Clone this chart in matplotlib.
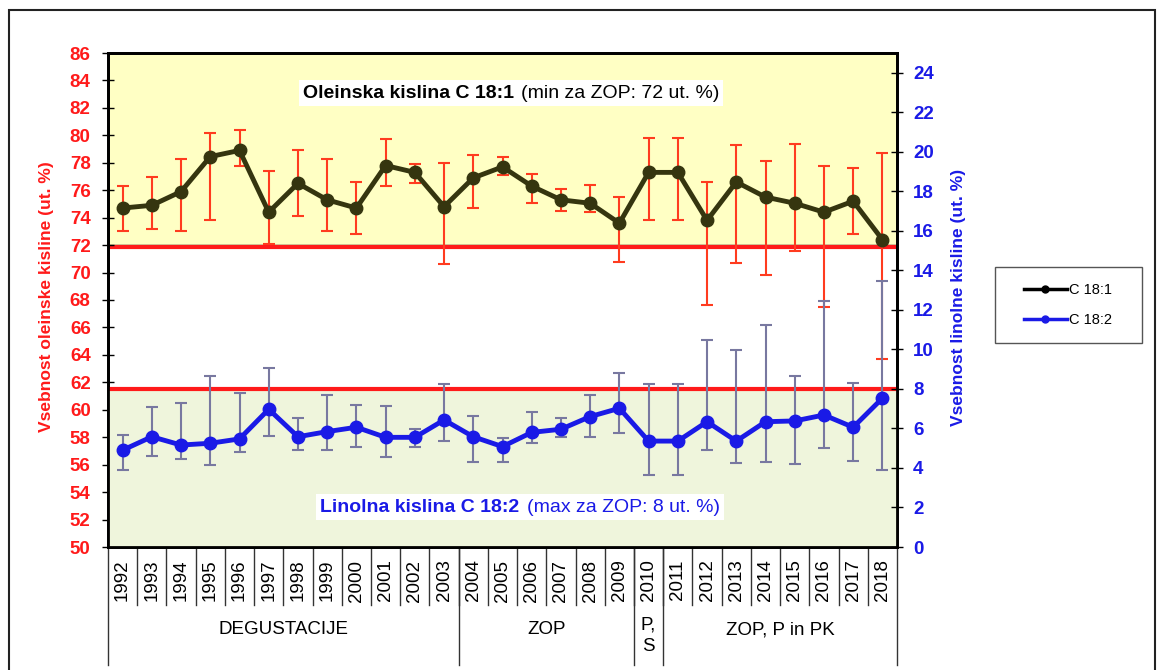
import matplotlib
matplotlib.use("Agg")
import matplotlib.pyplot as plt
from matplotlib.lines import Line2D
from matplotlib.patches import Rectangle

plt.rcParams['font.family'] = ['Liberation Sans', 'DejaVu Sans']

years = [str(y) for y in range(1992, 2019)]

# oleic acid C 18:1 (left axis) - mean, upper and lower whisker
oleic = [74.7, 74.9, 75.9, 78.45, 78.9, 74.4, 76.5, 75.3, 74.7, 77.8, 77.3, 74.8, 76.9,
         77.7, 76.3, 75.3, 75.05, 73.6, 77.3, 77.3, 73.8, 76.6, 75.5, 75.05, 74.4, 75.2, 72.4]
oleic_hi = [76.3, 77.0, 78.3, 80.2, 80.4, 77.4, 78.9, 78.3, 76.6, 79.7, 77.9, 78.0, 78.6,
            78.45, 77.2, 76.1, 76.4, 75.5, 79.8, 79.8, 76.6, 79.3, 78.1, 79.4, 77.8, 77.65, 78.7]
oleic_lo = [73.0, 73.2, 73.0, 73.8, 77.8, 72.1, 74.1, 73.0, 72.8, 76.3, 76.5, 70.6, 74.7,
            77.1, 75.1, 74.5, 74.4, 70.75, 73.8, 73.8, 67.6, 70.7, 69.8, 71.6, 67.5, 72.8, 63.7]

# linoleic acid C 18:2 (right axis)
linol = [4.9, 5.58, 5.16, 5.25, 5.47, 6.97, 5.58, 5.84, 6.06, 5.55, 5.55, 6.43, 5.58,
         5.08, 5.8, 5.96, 6.6, 7.02, 5.36, 5.36, 6.34, 5.36, 6.34, 6.38, 6.68, 6.06, 7.53]
linol_hi = [5.65, 7.07, 7.3, 8.67, 7.78, 9.04, 6.51, 7.69, 7.19, 7.14, 5.97, 8.23, 6.63,
            5.5, 6.85, 6.51, 7.69, 8.79, 8.23, 8.23, 10.5, 9.97, 11.23, 8.65, 12.46, 8.32, 13.46]
linol_lo = [3.9, 4.62, 4.47, 4.15, 4.82, 5.62, 4.91, 4.91, 5.08, 4.57, 5.08, 5.36, 4.32,
            4.32, 5.25, 5.58, 5.58, 5.79, 3.64, 3.64, 4.91, 4.24, 4.29, 4.19, 4.99, 4.37, 3.9]

oleic_min = 72
linol_max = 8

# groups under the year axis: (label, first index, last index)
groups = [("DEGUSTACIJE", 0, 11), ("ZOP", 12, 17), ("P,\nS", 18, 18), ("ZOP, P in PK", 19, 26)]

W, H = 1167, 670
fig = plt.figure(figsize=(W / 100, H / 100), dpi=100)
ax = fig.add_axes([108 / W, (H - 547) / H, 789 / W, 494 / H])
ax2 = ax.twinx()

x = list(range(len(years)))
red = '#ff1a1a'
olive = '#35350f'
blue = '#1a1ae6'

ax.set_xlim(-0.5, len(years) - 0.5)
ax.set_ylim(50, 86)
ax2.set_ylim(0, 25)

# background bands
ax.axhspan(oleic_min, 86, facecolor='#ffffc4', edgecolor='black', lw=1, zorder=0)
ax2.axhspan(0, linol_max, facecolor='#eff5dc', edgecolor='none', zorder=0)
ax.axhline(oleic_min - 0.12, color=red, lw=3, zorder=1)
ax2.axhline(linol_max, color=red, lw=3, zorder=1)

# C 18:1
ax.errorbar(x, oleic,
            yerr=[[m - l for m, l in zip(oleic, oleic_lo)], [h - m for m, h in zip(oleic, oleic_hi)]],
            fmt='none', ecolor='#ff3b1f', elinewidth=1.5, capsize=4, capthick=1.5, zorder=2)
ax.plot(x, oleic, color=olive, lw=3.5, marker='o', ms=9, zorder=3)

# C 18:2
ax2.errorbar(x, linol,
             yerr=[[m - l for m, l in zip(linol, linol_lo)], [h - m for m, h in zip(linol, linol_hi)]],
             fmt='none', ecolor='#7878a0', elinewidth=1.5, capsize=4, capthick=1.5, zorder=2)
ax2.plot(x, linol, color=blue, lw=3.5, marker='o', ms=9, zorder=3)

# axes styling
ax.set_yticks(range(50, 87, 2))
ax2.set_yticks(range(0, 25, 2))
ax.tick_params(axis='y', direction='inout', length=9, width=1, pad=8, labelcolor=red, labelsize=13.5)
ax2.tick_params(axis='y', direction='inout', length=9, width=1, pad=7, labelcolor=blue, labelsize=13.5)
for lab in ax.get_yticklabels():
    lab.set_fontweight('bold')
for lab in ax2.get_yticklabels():
    lab.set_fontweight('bold')
ax.set_xticks(x)
ax.set_xticklabels(years, rotation=90, fontsize=13.5)
ax.tick_params(axis='x', length=0, pad=9)
for a in (ax, ax2):
    for s in a.spines.values():
        s.set_linewidth(2)

# year separators and group separators below the axis
tr = ax.get_xaxis_transform()
for i in range(len(years) - 1):
    ax.plot([i + 0.5, i + 0.5], [0, -0.117], color='#333333', lw=1, transform=tr, clip_on=False)
bounds = [-0.5] + [g[2] + 0.5 for g in groups]
for b in bounds:
    ax.plot([b, b], [0, -0.239], color='#333333', lw=1, transform=tr, clip_on=False)
for label, a, b in groups:
    yy = -0.18 if '\n' in label else -0.168
    ax.text((a + b) / 2, yy, label, transform=tr, ha='center', va='center', fontsize=13.5,
            linespacing=1.3)

# axis titles
fig.text(47 / W, 1 - 297 / H, 'Vsebnost oleinske kisline (ut. %)', rotation=90, color=red,
         fontsize=12.5, fontweight='bold', ha='center', va='center')
fig.text(958 / W, 1 - 297 / H, 'Vsebnost linolne kisline (ut. %)', rotation=90, color=blue,
         fontsize=12.5, fontweight='bold', ha='center', va='center')

# captions inside the plot
box = dict(facecolor='white', edgecolor='none', pad=3)
fig.text(514 / W, 1 - 93 / H, 'Oleinska kislina C 18:1', ha='right', va='center',
         fontsize=14, fontweight='bold', color='black', bbox=box)
fig.text(521 / W, 1 - 93 / H, '(min za ZOP: 72 ut. %)', ha='left', va='center',
         fontsize=14, color='black', bbox=box)
fig.text(519 / W, 1 - 507 / H, 'Linolna kislina C 18:2', ha='right', va='center',
         fontsize=14, fontweight='bold', color=blue, bbox=box)
fig.text(527 / W, 1 - 507 / H, '(max za ZOP: 8 ut. %)', ha='left', va='center',
         fontsize=14, color=blue, bbox=box)

# legend with its own frame
fig.patches.append(Rectangle((995 / W, 1 - 343 / H), 147 / W, 76 / H, transform=fig.transFigure,
                             facecolor='white', edgecolor='#555555', lw=1))
handles = [Line2D([], [], color='black', lw=2.5, marker='o', ms=5),
           Line2D([], [], color=blue, lw=2.5, marker='o', ms=5)]
fig.legend(handles, ['C 18:1', 'C 18:2'], loc='center', bbox_to_anchor=(1068 / W, 1 - 305 / H),
           fontsize=10.5, handlelength=2.9, frameon=False, labelspacing=1.15, handletextpad=0.15)

# outer frame
fig.patches.append(Rectangle((9 / W, -0.02), (1155 - 9) / W, 1 - 10 / H + 0.02,
                             transform=fig.transFigure, fill=False, edgecolor='#222222', lw=1.5))

fig.savefig('out.png', dpi=100)
